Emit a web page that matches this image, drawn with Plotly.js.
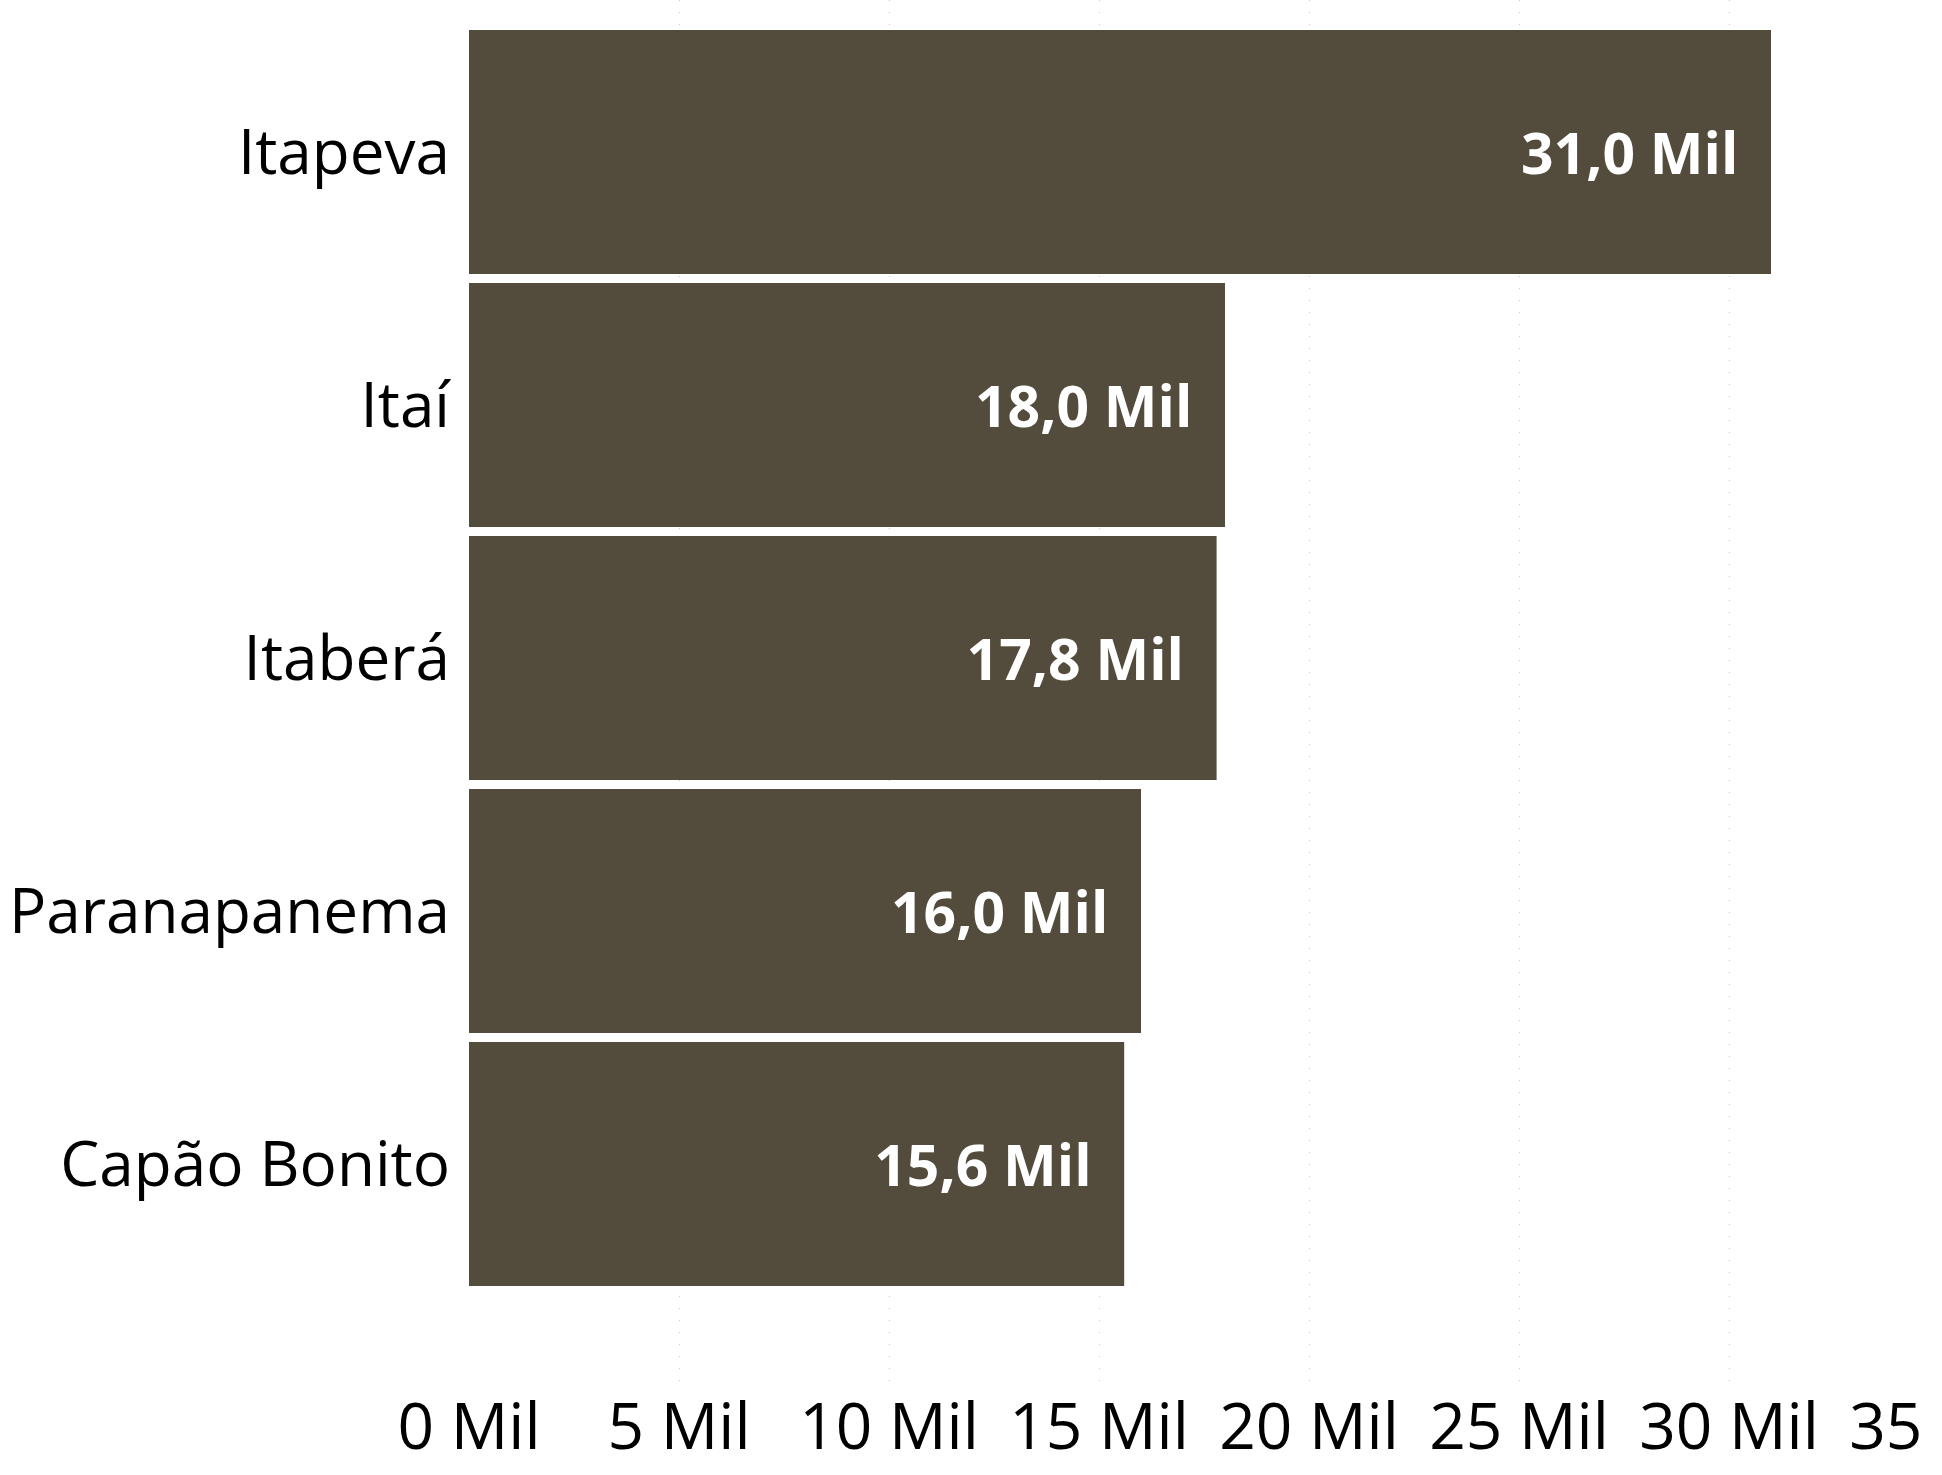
<!DOCTYPE html>
<html>
<head>
<meta charset="utf-8">
<script src="https://cdn.plot.ly/plotly-3.0.1.min.js"></script>
<style>html,body{margin:0;padding:0;background:#fff;}#chart{width:1942px;height:1475px;}</style>
</head>
<body>
<div id="chart"></div>
<script>
const cities = ["Itapeva", "Itaí", "Itaberá", "Paranapanema", "Capão Bonito"];
const valuesMil = [31.0, 18.0, 17.8, 16.0, 15.6];
const xTickValues = [0, 5, 10, 15, 20, 25, 30, 35];
const xTickLabels = ["0 Mil", "5 Mil", "10 Mil", "15 Mil", "20 Mil", "25 Mil", "30 Mil", "35 Mil"];

const trace = {
  type: "bar",
  orientation: "h",
  y: cities,
  x: valuesMil,
  marker: { color: "#534B3B", line: { width: 0 } },
  texttemplate: "%{x:.1f} Mil\u00a0\u00a0",
  textposition: "inside",
  insidetextanchor: "end",
  textangle: 0,
  insidetextfont: { family: "Open Sans", size: 57, color: "#FFFFFF", weight: "bold" },
  hoverinfo: "none",
  cliponaxis: false
};

const layout = {
  width: 1942,
  height: 1475,
  margin: { l: 469, r: 3, t: 0, b: 88, pad: 0 },
  paper_bgcolor: "#FFFFFF",
  plot_bgcolor: "#FFFFFF",
  separators: ",.",
  bargap: 0.0356,
  showlegend: false,
  font: { family: "Open Sans", color: "#000000" },
  xaxis: {
    range: [0, 35],
    tickmode: "array",
    tickvals: xTickValues,
    ticktext: xTickLabels,
    tickfont: { family: "Open Sans", size: 64, color: "#000000" },
    showgrid: true,
    gridcolor: "#C8C8C8",
    gridwidth: 1,
    griddash: "1px,11px",
    zeroline: false,
    showline: false,
    ticks: "",
    ticklabelstandoff: -3,
    ticklabeloverflow: "allow",
    fixedrange: true
  },
  yaxis: {
    type: "category",
    categoryorder: "array",
    categoryarray: cities,
    range: [4.881, -0.601],
    tickfont: { family: "Open Sans", size: 62, color: "#000000" },
    showgrid: false,
    zeroline: false,
    showline: false,
    ticks: "",
    ticklabelstandoff: 18,
    fixedrange: true
  }
};

Plotly.newPlot("chart", [trace], layout, { staticPlot: true, displayModeBar: false });
</script>
</body>
</html>
